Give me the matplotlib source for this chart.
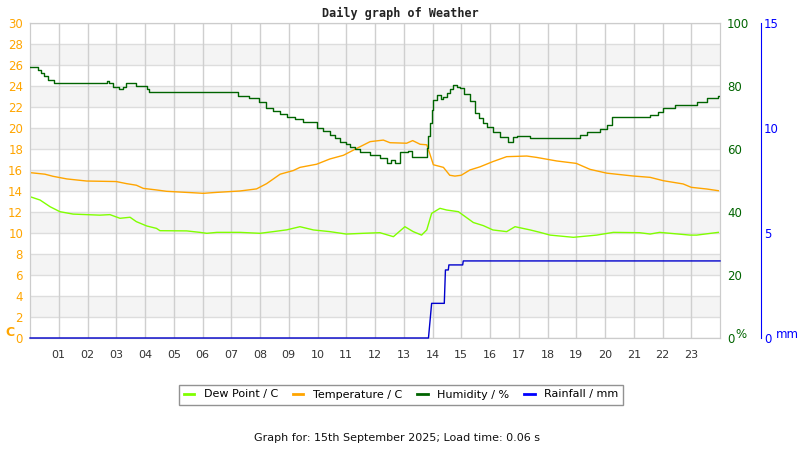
import numpy as np
import matplotlib
matplotlib.use("Agg")
import matplotlib.pyplot as plt
from matplotlib.lines import Line2D

# hours of the day and readings
hum_hours = [0, 0.29, 0.37, 0.5, 0.64, 0.85, 2.67, 2.75, 2.9, 3.1, 3.25, 3.33, 3.68, 4.06, 4.15,
             7.25, 7.63, 7.95, 8.2, 8.45, 8.7, 8.95, 9.2, 9.5, 9.97, 10.2, 10.43, 10.6, 10.78,
             11.0, 11.13, 11.3, 11.48, 11.83, 12.17, 12.4, 12.55, 12.7, 12.87, 13.15, 13.28,
             13.67, 13.8, 13.85, 13.91, 13.97, 14.03, 14.15, 14.3, 14.37, 14.49, 14.6, 14.72,
             14.85, 14.96, 15.1, 15.3, 15.48, 15.6, 15.76, 15.9, 16.1, 16.35, 16.63, 16.8, 16.93,
             17.4, 18.9, 19.13, 19.36, 19.83, 20.06, 20.23, 21.57, 21.86, 22.03, 22.43, 23.19,
             23.56, 23.94, 24.0]
humidity = [86.0, 85.1, 84.2, 83.2, 81.9, 80.8, 81.6, 80.8, 79.8, 79.0, 79.8, 80.8, 79.9, 79.0, 78.0,
            76.9, 76.1, 74.8, 72.9, 72.0, 71.1, 70.1, 69.5, 68.5, 66.6, 65.8, 64.4, 63.5, 62.3,
            61.5, 60.7, 59.9, 59.1, 58.1, 57.0, 55.4, 56.5, 55.4, 59.1, 59.4, 57.6,
            57.6, 60.2, 64.0, 68.2, 72.5, 75.6, 77.1, 76.0, 76.6, 77.7, 79.2, 80.3,
            79.8, 79.3, 77.5, 75.1, 71.3, 70.0, 68.2, 67.0, 65.5, 63.9, 62.3, 63.9, 64.2,
            63.4, 63.4, 64.4, 65.5, 66.2, 67.6, 70.1, 70.8, 71.8, 72.9, 74.0, 75.0,
            76.1, 76.9, 76.9]

temp_hours = [0, 0.52, 0.8, 1.28, 1.97, 3.0, 3.36, 3.7, 3.94, 4.4, 4.75, 6.03, 6.5, 7.3, 7.88,
              8.23, 8.7, 9.16, 9.39, 9.97, 10.43, 10.9, 11.36, 11.83, 12.29, 12.52, 13.1, 13.31,
              13.57, 13.8, 13.9, 14.03, 14.38, 14.6, 14.78, 15.0, 15.3, 15.65, 16.1, 16.58, 17.28,
              17.62, 18.32, 19.0, 19.48, 20.06, 20.97, 21.57, 22.03, 22.72, 23.0, 23.54, 23.94]
temperature = [15.75, 15.6, 15.4, 15.15, 14.95, 14.9, 14.7, 14.55, 14.25, 14.1, 13.97, 13.78, 13.87,
               14.0, 14.2, 14.7, 15.6, 15.95, 16.25, 16.55, 17.05, 17.4, 18.05, 18.7, 18.85, 18.6,
               18.55, 18.8, 18.45, 18.4, 17.6, 16.5, 16.25, 15.5, 15.42, 15.5, 16.0, 16.3, 16.8,
               17.27, 17.33, 17.2, 16.86, 16.63, 16.06, 15.7, 15.43, 15.3, 14.98, 14.67, 14.35,
               14.19, 14.03]

dew_hours = [0, 0.35, 0.7, 1.04, 1.5, 2.43, 2.78, 3.13, 3.48, 3.7, 4.06, 4.4, 4.52, 5.45, 5.91,
             6.15, 6.5, 7.3, 8.0, 8.46, 8.93, 9.39, 9.86, 10.43, 11.0, 11.59, 12.17, 12.64, 13.04,
             13.33, 13.62, 13.8, 13.97, 14.26, 14.49, 14.9, 15.42, 15.77, 16.1, 16.58, 16.87, 17.4,
             17.74, 18.09, 18.9, 19.71, 20.29, 21.2, 21.57, 21.9, 22.96, 23.19, 23.94]
dew_point = [13.46, 13.14, 12.5, 12.03, 11.8, 11.7, 11.75, 11.4, 11.5, 11.08, 10.67, 10.44, 10.22,
             10.2, 10.06, 9.97, 10.06, 10.06, 9.97, 10.13, 10.3, 10.6, 10.29, 10.13, 9.9, 9.97,
             10.03, 9.65, 10.6, 10.13, 9.8, 10.29, 11.87, 12.35, 12.19, 12.03, 11.0, 10.7, 10.29,
             10.13, 10.6, 10.29, 10.06, 9.8, 9.59, 9.8, 10.06, 10.03, 9.9, 10.06, 9.8, 9.8, 10.06]

rain_hours = [0, 13.86, 13.97, 14.41, 14.45, 14.55, 14.57, 15.05, 15.07, 24.0]
rainfall = [0, 0, 1.65, 1.65, 3.24, 3.24, 3.48, 3.48, 3.67, 3.67]

hour_labels = ["%02d" % h for h in range(1, 24)]

orange = "#ffa500"
dkgreen = "#006400"
ltgreen = "#80ff00"
blue = "#0000ff"

fig = plt.figure(figsize=(8, 4.5), dpi=100)
ax = fig.add_axes([30 / 800, 1 - 338 / 450, 690 / 800, 315 / 450])

# alternating bands and grid
for lo in range(2, 30, 4):
    ax.axhspan(lo, lo + 2, color="#f4f4f4", zorder=0, lw=0)
for yv in range(0, 31, 2):
    ax.axhline(yv, color="#dddddd", lw=1, zorder=1)
for h in range(1, 24):
    ax.axvline(h, color="#cfcfcf", lw=1, zorder=1)

ax.set_xlim(0, 24)
ax.set_ylim(0, 30)
ax.set_xticks(range(1, 24))
ax.set_xticklabels(hour_labels)
ax.set_yticks(range(0, 31, 2))
ax.tick_params(axis="x", length=0, pad=9, labelsize=8, colors="#333333")
ax.tick_params(axis="y", length=0, pad=5, labelsize=8.5, labelcolor=orange)
for s in ax.spines.values():
    s.set_color("#cccccc")

ax.plot(dew_hours, dew_point, color=ltgreen, lw=1, zorder=3)
ax.plot(temp_hours, temperature, color=orange, lw=1, zorder=3)

ax2 = ax.twinx()
ax2.set_ylim(0, 100)
ax2.set_yticks(range(0, 101, 20))
ax2.tick_params(axis="y", length=0, pad=5, labelsize=8.5, labelcolor=dkgreen)
for s in ax2.spines.values():
    s.set_color("#cccccc")
ax2.plot(hum_hours, humidity, color=dkgreen, lw=1, drawstyle="steps-post", zorder=4)

ax3 = ax.twinx()
ax3.set_ylim(0, 15)
ax3.set_yticks([0, 5, 10, 15])
ax3.spines["right"].set_position(("outward", 41 * 0.72))
for k in ["left", "top", "bottom"]:
    ax3.spines[k].set_visible(False)
ax3.spines["right"].set_color(blue)
ax3.tick_params(axis="y", length=0, pad=2, labelsize=8.5, labelcolor=blue)
ax3.plot(rain_hours, rainfall, color="#0000cc", lw=1, zorder=5, clip_on=False)

fig.text(5 / 800, 1 - 333 / 450, "C", color=orange, fontsize=9, fontweight="bold", va="center")
fig.text(735 / 800, 1 - 334 / 450, "%", color=dkgreen, fontsize=8.5, va="center")
fig.text(776 / 800, 1 - 334 / 450, "mm", color=blue, fontsize=8.5, va="center")

fig.text(0.5, 1 - 13 / 450, "Daily graph of Weather", family="DejaVu Sans Mono",
         fontweight="bold", fontsize=8.5, ha="center", va="center", color="#222222")

handles = [Line2D([], [], color=ltgreen, lw=2),
           Line2D([], [], color=orange, lw=2),
           Line2D([], [], color=dkgreen, lw=2),
           Line2D([], [], color=blue, lw=2)]
leg = fig.legend(handles, ["Dew Point / C", "Temperature / C", "Humidity / %", "Rainfall / mm"],
                 loc="center", bbox_to_anchor=(401 / 800, 1 - 394.5 / 450), ncol=4,
                 fontsize=8, frameon=True, fancybox=False, handlelength=0.95,
                 handletextpad=0.85, columnspacing=1.35, borderpad=0.45, borderaxespad=0)
leg.get_frame().set_edgecolor("#777777")
leg.get_frame().set_linewidth(1)

fig.text(397 / 800, 1 - 438 / 450, "Graph for: 15th September 2025; Load time: 0.06 s",
         fontsize=8, ha="center", va="center", color="#111111")

fig.savefig("out.png", dpi=100)
